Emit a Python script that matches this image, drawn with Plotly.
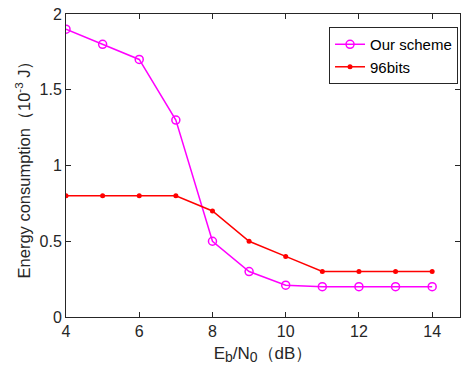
import plotly.graph_objects as go

x_vals = [4, 5, 6, 7, 8, 9, 10, 11, 12, 13, 14]
our_scheme = [1.9, 1.8, 1.7, 1.3, 0.5, 0.3, 0.21, 0.2, 0.2, 0.2, 0.2]
bits96 = [0.8, 0.8, 0.8, 0.8, 0.7, 0.5, 0.4, 0.3, 0.3, 0.3, 0.3]
x_ticks = [4, 6, 8, 10, 12, 14]
y_ticks = [0, 0.5, 1, 1.5, 2]
y_tick_text = ["0", "0.5", "1", "1.5", "2"]

fig = go.Figure()
fig.add_trace(go.Scatter(
    x=x_vals, y=our_scheme, name="Our scheme", mode="lines+markers",
    line=dict(color="#ff00ff", width=1.5),
    marker=dict(symbol="circle-open", size=8, color="#ff00ff", line=dict(width=1.5)),
))
fig.add_trace(go.Scatter(
    x=x_vals, y=bits96, name="96bits", mode="lines+markers",
    line=dict(color="#ff0000", width=1.5),
    marker=dict(symbol="circle", size=5, color="#ff0000"),
))

font = "Arial"
axis_common = dict(
    showgrid=False, zeroline=False, showline=True, linecolor="#262626", linewidth=1,
    mirror="allticks", ticks="inside", ticklen=5, tickcolor="#262626",
    tickfont=dict(family=font, size=16, color="#262626"), automargin=False,
)
xtitle = ("E<sub><span style='font-size:14px'>b</span></sub>/N"
          "<sub><span style='font-size:14px'>0</span></sub>（dB）")
fig.update_xaxes(range=[4, 14.76], tickvals=x_ticks, ticktext=[str(t) for t in x_ticks],
                 title=dict(text=xtitle, font=dict(family=font, size=17, color="#262626"), standoff=7),
                 **axis_common)
fig.update_yaxes(range=[0, 2], tickvals=y_ticks, ticktext=y_tick_text,
                 title=dict(text="Energy consumption（10<sup>-3</sup> J）", font=dict(family=font, size=16.5, color="#262626"), standoff=4),
                 **axis_common)
fig.update_layout(
    width=461, height=374, margin=dict(l=66, r=1, t=14, b=57, autoexpand=False),
    plot_bgcolor="white", paper_bgcolor="white",
    font=dict(family=font, size=16, color="#262626"),
    legend=dict(x=0.995, y=0.957, xanchor="right", yanchor="top",
                bordercolor="#262626", borderwidth=1, bgcolor="white",
                font=dict(family=font, size=15, color="black"),
                tracegroupgap=0),
    showlegend=True,
)
fig.write_html("out.html", post_script="document.body.style.margin='0';",
               config={"displayModeBar": False})
